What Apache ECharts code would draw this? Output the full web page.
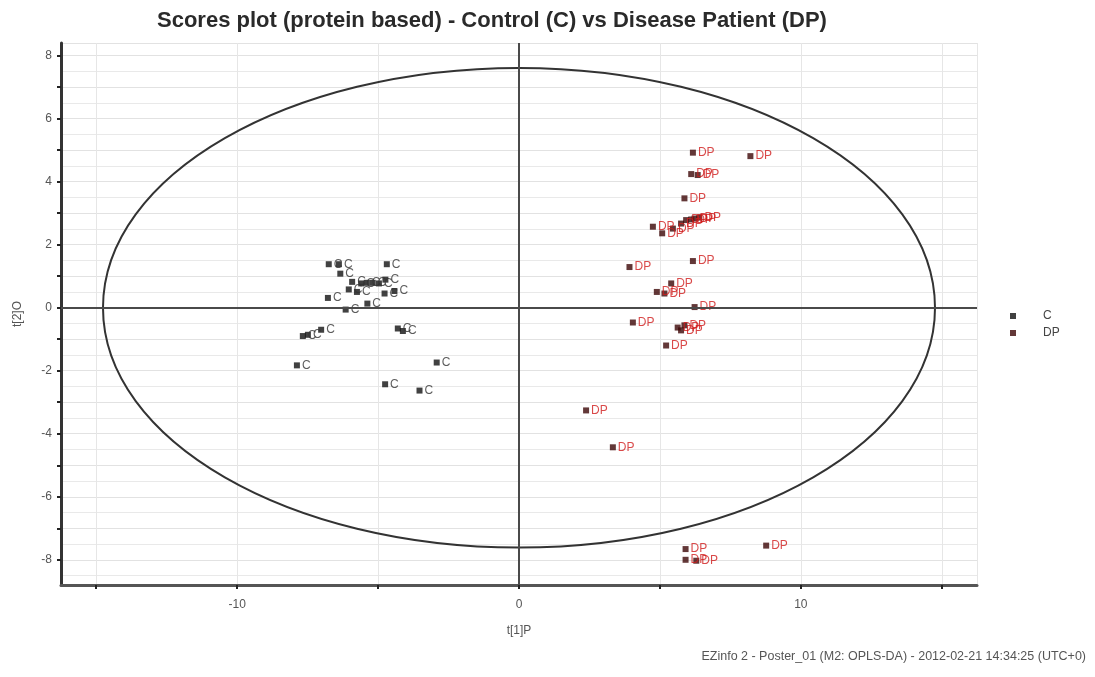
<!DOCTYPE html>
<html>
<head>
<meta charset="utf-8">
<script src="https://cdn.jsdelivr.net/npm/echarts@6/dist/echarts.min.js"></script>
<style>
  html, body { margin: 0; padding: 0; background: #ffffff; }
  #chart { width: 1095px; height: 677px; }
</style>
</head>
<body>
<div id="chart"></div>
<script>
// ---- data ----
const titleText = 'Scores plot (protein based) - Control (C) vs Disease Patient (DP)';
const footerText = 'EZinfo 2 - Poster_01 (M2: OPLS-DA) - 2012-02-21 14:34:25 (UTC+0)';
const xAxisName = 't[1]P';
const yAxisName = 't[2]O';
const groupNames = ['C', 'DP'];

// Control (C) scores: [t1, t2]
const controlScores = [
  [-6.75, 1.38], [-6.39, 1.38], [-6.34, 1.08], [-4.69, 1.38],
  [-5.92, 0.82], [-5.60, 0.77], [-5.40, 0.79], [-5.19, 0.79],
  [-4.97, 0.77], [-6.04, 0.58], [-5.75, 0.50], [-4.74, 0.89],
  [-6.78, 0.31], [-6.15, -0.06], [-5.38, 0.13], [-4.77, 0.45],
  [-4.42, 0.53], [-7.67, -0.90], [-7.49, -0.86], [-7.02, -0.70],
  [-4.30, -0.66], [-4.12, -0.74], [-7.88, -1.83], [-2.92, -1.74],
  [-4.75, -2.43], [-3.53, -2.63]
];

// Disease Patient (DP) scores: [t1, t2]
const patientScores = [
  [6.17, 4.92], [8.21, 4.81], [6.11, 4.24], [6.34, 4.21],
  [5.87, 3.47], [4.75, 2.57], [5.08, 2.36], [5.46, 2.51],
  [5.75, 2.67], [5.93, 2.78], [6.11, 2.80], [6.23, 2.83],
  [6.40, 2.86], [3.92, 1.29], [6.17, 1.48], [5.40, 0.77],
  [4.89, 0.50], [5.16, 0.45], [6.23, 0.02], [4.04, -0.47],
  [5.63, -0.63], [5.87, -0.56], [5.75, -0.72], [5.22, -1.20],
  [2.38, -3.26], [3.33, -4.43], [5.91, -7.66], [5.91, -8.00],
  [6.29, -8.03], [8.77, -7.55]
];

// Hotelling T2 ellipse (centre and semi-axes, in score units)
const ellipseCentre = [0, 0];
const ellipseRadii = [14.76, 7.61];

// axis extents
const xRange = [-16.25, 16.25];
const yRange = [-8.8, 8.4];

const chart = echarts.init(document.getElementById('chart'), null, { renderer: 'canvas' });

const labelFont = 'Liberation Sans, Arial, sans-serif';

const option = {
  animation: false,
  backgroundColor: '#ffffff',
  title: [
    {
      text: titleText,
      left: 152,
      top: 5,
      textStyle: {
        fontFamily: 'Liberation Sans Narrow, Arial Narrow, sans-serif',
        fontWeight: 'bold',
        fontSize: 22,
        color: '#2a2a2a'
      }
    },
    {
      text: footerText,
      right: 4,
      bottom: 9,
      textStyle: {
        fontFamily: 'Liberation Sans Narrow, Arial Narrow, sans-serif',
        fontWeight: 'normal',
        fontSize: 12.5,
        color: '#555555'
      }
    }
  ],
  legend: {
    orient: 'vertical',
    left: 1005,
    top: 305,
    itemWidth: 6,
    itemHeight: 6,
    itemGap: 5,
    icon: 'rect',
    data: groupNames,
    textStyle: {
      fontFamily: labelFont,
      fontSize: 12,
      color: '#444444',
      padding: [0, 0, 0, 22]
    }
  },
  grid: {
    left: 61,
    right: 118,
    top: 43,
    bottom: 92,
    containLabel: false
  },
  xAxis: {
    type: 'value',
    min: xRange[0],
    max: xRange[1],
    minInterval: 5,
    maxInterval: 5,
    name: xAxisName,
    nameLocation: 'middle',
    nameGap: 40,
    nameTextStyle: { fontFamily: labelFont, fontSize: 12, color: '#555555' },
    axisLine: { onZero: false, lineStyle: { color: '#555555', width: 3 } },
    axisTick: { show: true, inside: false, length: 4, lineStyle: { color: '#222222', width: 2 } },
    axisLabel: {
      margin: 14,
      fontFamily: labelFont,
      fontSize: 12,
      color: '#555555',
      showMinLabel: false,
      showMaxLabel: false,
      formatter: function (v) {
        return (Math.abs(v % 10) < 1e-9) ? String(Math.round(v)) : '';
      }
    },
    splitLine: { show: true, lineStyle: { color: '#e6e6e6', width: 1 } }
  },
  yAxis: {
    type: 'value',
    min: yRange[0],
    max: yRange[1],
    minInterval: 1,
    maxInterval: 1,
    name: yAxisName,
    nameLocation: 'middle',
    nameGap: 37,
    nameRotate: 90,
    nameTextStyle: { fontFamily: labelFont, fontSize: 12, color: '#555555' },
    axisLine: { onZero: false, lineStyle: { color: '#333333', width: 3 } },
    axisTick: { show: true, inside: false, length: 4, lineStyle: { color: '#222222', width: 2 } },
    axisLabel: {
      margin: 9,
      fontFamily: labelFont,
      fontSize: 12,
      color: '#555555',
      showMinLabel: false,
      showMaxLabel: false,
      formatter: function (v) {
        const r = Math.round(v);
        return (Math.abs(v - r) < 1e-9 && r % 2 === 0) ? String(r) : '';
      }
    },
    splitLine: { show: true, lineStyle: { color: '#e2e2e2', width: 1 } },
    minorTick: { show: false, splitNumber: 2 },
    minorSplitLine: { show: true, lineStyle: { color: '#e9e9e9', width: 1 } }
  },
  series: [
    {
      type: 'custom',
      name: 'ellipse',
      silent: true,
      z: 1,
      data: [ellipseCentre],
      encode: { x: 0, y: 1 },
      renderItem: function (params, api) {
        const c = api.coord([api.value(0), api.value(1)]);
        const s = api.size([ellipseRadii[0], ellipseRadii[1]]);
        return {
          type: 'ellipse',
          shape: { cx: c[0], cy: c[1], rx: s[0], ry: s[1] },
          style: { fill: 'none', stroke: '#333333', lineWidth: 2 }
        };
      },
      markLine: {
        silent: true,
        symbol: 'none',
        label: { show: false },
        lineStyle: { color: '#4a4a4a', width: 2, type: 'solid' },
        data: [{ xAxis: 0 }, { yAxis: 0 }]
      }
    },
    {
      type: 'scatter',
      name: groupNames[0],
      z: 3,
      data: controlScores,
      symbol: 'rect',
      symbolSize: 6,
      itemStyle: { color: '#111111' },
      label: {
        show: true,
        position: 'right',
        distance: 2,
        formatter: groupNames[0],
        fontFamily: labelFont,
        fontSize: 12,
        color: '#333333'
      }
    },
    {
      type: 'scatter',
      name: groupNames[1],
      z: 3,
      data: patientScores,
      symbol: 'rect',
      symbolSize: 6,
      itemStyle: { color: '#3c0606' },
      label: {
        show: true,
        position: 'right',
        distance: 2,
        formatter: groupNames[1],
        fontFamily: labelFont,
        fontSize: 12,
        color: '#d01c1c'
      }
    }
  ]
};

chart.setOption(option);
</script>
</body>
</html>
